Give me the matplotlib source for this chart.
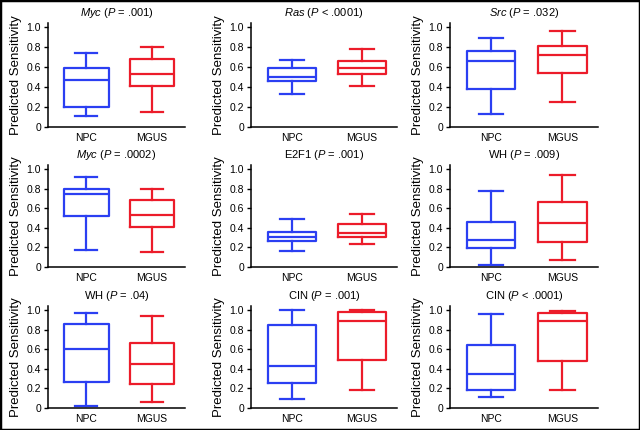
import matplotlib
matplotlib.use("Agg")
import matplotlib.pyplot as plt
from matplotlib.patches import Rectangle

plt.rcParams['font.family'] = ['Liberation Sans', 'DejaVu Sans']
plt.rcParams['mathtext.fontset'] = 'custom'
plt.rcParams['mathtext.it'] = 'Liberation Sans:italic'
plt.rcParams['mathtext.rm'] = 'Liberation Sans'

# ---------------- data ----------------
groups = ["NPC", "MGUS"]
titles = [
    r"$\mathit{Myc}$ ($\mathit{P}$ = .001)",
    r"$\mathit{Ras}$ ($\mathit{P}$ < .0001)",
    r"$\mathit{Src}$ ($\mathit{P}$ = .032)",
    r"$\mathit{Myc}$ ($\mathit{P}$ = .0002)",
    r"E2F1 ($\mathit{P}$ = .001)",
    r"WH ($\mathit{P}$ = .009)",
    r"WH ($\mathit{P}$ = .04)",
    r"CIN ($\mathit{P}$ = .001)",
    r"CIN ($\mathit{P}$ < .0001)",
]
# each entry: [whisker low, q1, median, q3, whisker high]
npc_stats = [
    [0.11, 0.20, 0.47, 0.59, 0.74],
    [0.33, 0.46, 0.50, 0.59, 0.67],
    [0.13, 0.38, 0.66, 0.76, 0.89],
    [0.17, 0.52, 0.74, 0.80, 0.92],
    [0.16, 0.27, 0.31, 0.36, 0.49],
    [0.02, 0.19, 0.28, 0.46, 0.78],
    [0.02, 0.27, 0.60, 0.86, 0.97],
    [0.09, 0.25, 0.43, 0.85, 1.00],
    [0.11, 0.18, 0.35, 0.64, 0.96],
]
mgus_stats = [
    [0.15, 0.41, 0.53, 0.68, 0.80],
    [0.41, 0.53, 0.59, 0.66, 0.78],
    [0.25, 0.54, 0.72, 0.81, 0.96],
    [0.15, 0.41, 0.53, 0.68, 0.80],
    [0.23, 0.31, 0.35, 0.44, 0.54],
    [0.07, 0.25, 0.45, 0.66, 0.94],
    [0.06, 0.24, 0.45, 0.66, 0.94],
    [0.18, 0.49, 0.89, 0.98, 1.00],
    [0.18, 0.48, 0.89, 0.97, 0.99],
]
yticks = [0, 0.2, 0.4, 0.6, 0.8, 1.0]
ytick_labels = ["0", "0.2", "0.4", "0.6", "0.8", "1.0"]

colors = ["#2b3ff2", "#ec1c2a"]

W, H = 640, 430
col_x = [(48, 185), (251, 397), (450, 598)]
row_y = [(23, 127), (165, 267), (306, 408)]  # pixel top / bottom

fig = plt.figure(figsize=(6.4, 4.3), dpi=100)

for i in range(9):
    r, c = divmod(i, 3)
    x0, x1 = col_x[c]
    y0, y1 = row_y[r]
    ax = fig.add_axes([x0 / W, 1 - y1 / H, (x1 - x0) / W, (y1 - y0) / H])

    stats = []
    for s in (npc_stats[i], mgus_stats[i]):
        stats.append(dict(whislo=s[0], q1=s[1], med=s[2], q3=s[3], whishi=s[4], fliers=[]))
    bp = ax.bxp(stats, positions=[1, 2], widths=0.68, showfliers=False,
                patch_artist=False, manage_ticks=False)
    for k, col in enumerate(colors):
        bp['boxes'][k].set(color=col, linewidth=1.6)
        bp['medians'][k].set(color=col, linewidth=1.6)
        for art in bp['whiskers'][2 * k:2 * k + 2] + bp['caps'][2 * k:2 * k + 2]:
            art.set(color=col, linewidth=1.6)

    ax.set_xlim(0.42, 2.5)
    ax.set_ylim(0, 1.04)
    ax.set_xticks([1, 2])
    ax.set_xticklabels(groups, fontsize=7.5)
    ax.set_yticks(yticks)
    ax.set_yticklabels(ytick_labels, fontsize=7.5)
    ax.tick_params(length=3, width=1, pad=2)
    ax.tick_params(axis='x', length=0, pad=4)
    for side in ("top", "right"):
        ax.spines[side].set_visible(False)
    for side in ("left", "bottom"):
        ax.spines[side].set_linewidth(1.1)
    ax.set_ylabel("Predicted Sensitivity", fontsize=9.5, labelpad=3)
    ax.set_title(titles[i], fontsize=8, pad=5)

# border around whole figure
fig.patches.append(Rectangle((0, 0), 1, 1, transform=fig.transFigure,
                             fill=False, edgecolor="black", linewidth=2.5))

fig.savefig("out.png", dpi=100)
